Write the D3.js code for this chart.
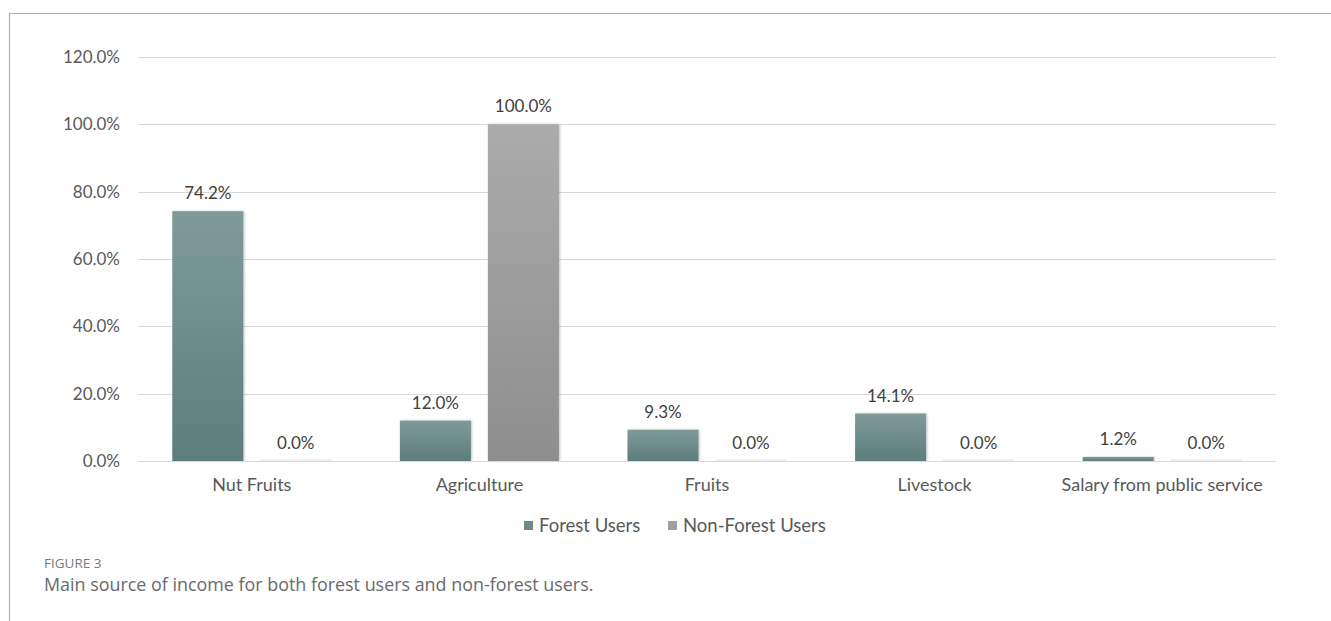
<!DOCTYPE html>
<html>
<head>
<meta charset="utf-8">
<script src="https://cdn.jsdelivr.net/npm/d3@7"></script>
<style>
  html, body { margin: 0; padding: 0; background: #fff; }
  svg { display: block; }
</style>
</head>
<body>
<svg id="chart" width="1331" height="621"></svg>
<script>
// Main source of income, share of respondents per group
const categories = ["Nut Fruits", "Agriculture", "Fruits", "Livestock", "Salary from public service"];
const seriesNames = ["Forest Users", "Non-Forest Users"];
const forestUsers = [74.2, 12.0, 9.3, 14.1, 1.2];
const nonForestUsers = [0.0, 100.0, 0.0, 0.0, 0.0];
const yTicks = [0, 20, 40, 60, 80, 100, 120];

const svg = d3.select("#chart");
const W = 1331, H = 621;
const fontFam = "'Lato', 'Open Sans', sans-serif";

// frame lines
svg.append("line").attr("x1", 9).attr("x2", W).attr("y1", 13.5).attr("y2", 13.5)
  .attr("stroke", "#b0b0b0").attr("stroke-width", 1.2);
svg.append("line").attr("x1", 9.5).attr("x2", 9.5).attr("y1", 13).attr("y2", H)
  .attr("stroke", "#b0b0b0").attr("stroke-width", 1.2);

const plot = { left: 138, right: 1276, top: 57, bottom: 461 };

const x = d3.scaleBand().domain(categories).range([plot.left, plot.right]).paddingInner(0).paddingOuter(0);
const xs = d3.scaleBand().domain(seriesNames).range([0, 159]).paddingInner(0.193);
const y = d3.scaleLinear().domain([0, 120]).range([plot.bottom, plot.top]);

// gradients
const defs = svg.append("defs");
function grad(id, top, bottom) {
  const g = defs.append("linearGradient").attr("id", id).attr("x1", 0).attr("x2", 0).attr("y1", 0).attr("y2", 1);
  g.append("stop").attr("offset", "0%").attr("stop-color", top);
  g.append("stop").attr("offset", "100%").attr("stop-color", bottom);
}
grad("gForest", "#809a9a", "#5d7d7d");
grad("gNon", "#ababab", "#8e8e8e");
const f = defs.append("filter").attr("id", "shadow").attr("x", "-10%").attr("y", "-10%").attr("width", "130%").attr("height", "130%");
f.append("feDropShadow").attr("dx", 1).attr("dy", 0).attr("stdDeviation", 1.2).attr("flood-color", "#000").attr("flood-opacity", 0.25);

// gridlines
svg.append("g").selectAll("line").data(yTicks).join("line")
  .attr("x1", plot.left).attr("x2", plot.right)
  .attr("y1", d => Math.round(y(d)) + 0.5).attr("y2", d => Math.round(y(d)) + 0.5)
  .attr("stroke", "#d9d9d9").attr("stroke-width", 1);

// y axis labels
const yAxis = d3.axisLeft(y).tickValues(yTicks).tickFormat(d => d.toFixed(1) + "%").tickSize(0).tickPadding(0);
const yg = svg.append("g").attr("transform", `translate(120,0)`).call(yAxis);
yg.select(".domain").remove();
yg.selectAll("text").attr("font-family", fontFam).attr("font-size", 17).attr("fill", "#595959");

// bars
const series = [
  { name: seriesNames[0], values: forestUsers, fill: "url(#gForest)" },
  { name: seriesNames[1], values: nonForestUsers, fill: "url(#gNon)" }
];
const offset = (x.bandwidth() - 159) / 2;
const barsG = svg.append("g");
series.forEach(s => {
  const items = categories.map((c, i) => ({ c, v: s.values[i] }));
  const bx = d => x(d.c) + offset + xs(s.name);
  barsG.append("g").selectAll("rect").data(items).join("rect")
    .attr("x", bx)
    .attr("width", xs.bandwidth())
    .attr("y", d => d.v > 0 ? y(d.v) : y(0) - 2)
    .attr("height", d => d.v > 0 ? y(0) - y(d.v) : 2)
    .attr("fill", d => d.v > 0 ? s.fill : "#f0f0f0")
    .attr("filter", d => d.v > 0 ? "url(#shadow)" : null);
  barsG.append("g").selectAll("text").data(items).join("text")
    .attr("x", d => bx(d) + xs.bandwidth() / 2)
    .attr("y", d => y(d.v) - 12)
    .attr("text-anchor", "middle")
    .attr("font-family", fontFam).attr("font-size", 17).attr("fill", "#404040")
    .text(d => d.v.toFixed(1) + "%");
});

// baseline
svg.append("line").attr("x1", plot.left).attr("x2", plot.right)
  .attr("y1", Math.round(y(0)) + 0.5).attr("y2", Math.round(y(0)) + 0.5)
  .attr("stroke", "#d9d9d9");

// x axis labels
const xAxis = d3.axisBottom(x).tickSize(0).tickPadding(0);
const xg = svg.append("g").attr("transform", `translate(0,${plot.bottom + 17})`).call(xAxis);
xg.select(".domain").remove();
xg.selectAll("text").attr("font-family", fontFam).attr("font-size", 18).attr("fill", "#595959");

// legend
const legend = svg.append("g").attr("font-family", fontFam).attr("font-size", 18.5).attr("fill", "#595959");
const legendItems = [
  { name: seriesNames[0], color: "#6b8a8a", x: 524 },
  { name: seriesNames[1], color: "#a0a0a0", x: 668 }
];
legendItems.forEach(li => {
  legend.append("rect").attr("x", li.x).attr("y", 521).attr("width", 9).attr("height", 9).attr("fill", li.color);
  legend.append("text").attr("x", li.x + 15).attr("y", 532).text(li.name);
});

// caption
svg.append("text").attr("x", 44).attr("y", 568)
  .attr("font-family", "'Open Sans', sans-serif").attr("font-size", 13.5).attr("fill", "#7a7a7a")
  .text("FIGURE 3");
svg.append("text").attr("x", 44).attr("y", 591)
  .attr("font-family", "'Open Sans', sans-serif").attr("font-size", 17.9).attr("fill", "#6a6a6a")
  .text("Main source of income for both forest users and non-forest users.");
</script>
</body>
</html>
